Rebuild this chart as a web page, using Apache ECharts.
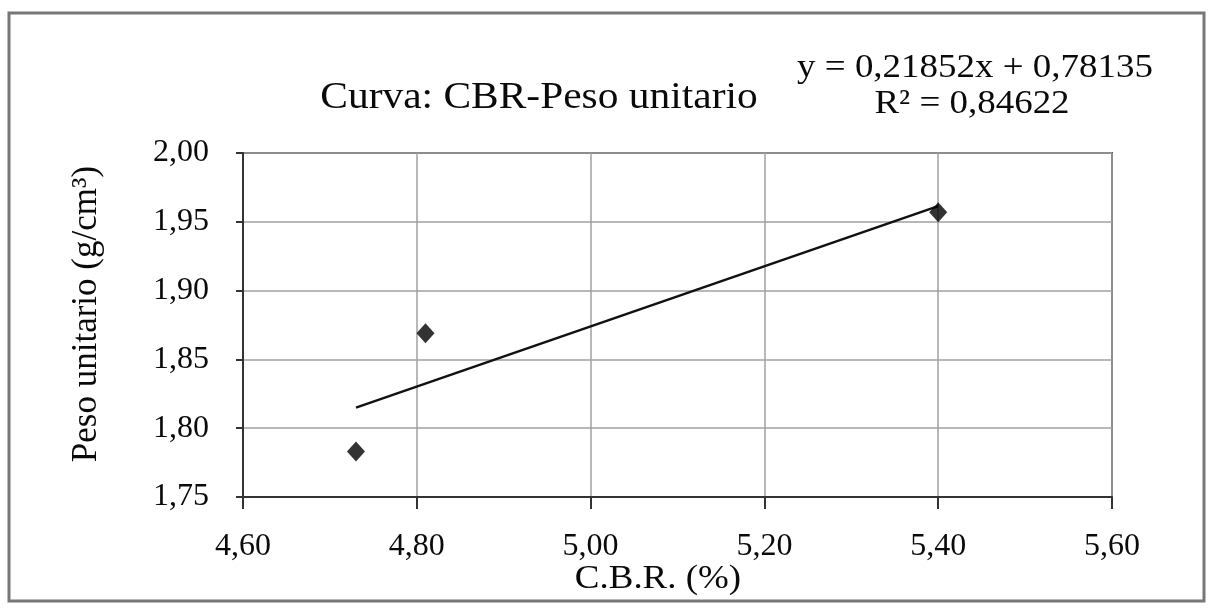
<!DOCTYPE html>
<html>
<head>
<meta charset="utf-8">
<script src="https://cdn.jsdelivr.net/npm/echarts@6/dist/echarts.min.js"></script>
<style>
  html, body { margin: 0; padding: 0; background: #fff; }
  #chart { width: 1214px; height: 608px; }
</style>
</head>
<body>
<div id="chart"></div>
<script>
// Ensayos CBR: valor CBR (%) y peso unitario seco (g/cm³)
const cbrValues = [4.73, 4.81, 5.40];
const pesoUnitario = [1.783, 1.869, 1.957];

// Línea de tendencia lineal y coeficiente de determinación
const slope = 0.21852;
const intercept = 0.78135;
const rSquared = 0.84622;

const xTicks = [4.60, 4.80, 5.00, 5.20, 5.40, 5.60];
const yTicks = [1.75, 1.80, 1.85, 1.90, 1.95, 2.00];

const chartTitle = 'Curva: CBR-Peso unitario';
const xName = 'C.B.R. (%)';
const yName = 'Peso unitario (g/cm³)';

const fmt = (v, d) => v.toFixed(d).replace('.', ',');

const points = cbrValues.map((x, i) => [x, pesoUnitario[i]]);
const xMin = Math.min(...cbrValues);
const xMax = Math.max(...cbrValues);
const trend = [xMin, xMax].map(x => [x, slope * x + intercept]);

const FONT = '"Liberation Serif", "DejaVu Serif", serif';
const INK = '#0a0a0a';
const WIDE = 1.12; // ensanchado horizontal de los textos

function label(text, x, y, size, opts) {
  return Object.assign({
    type: 'text',
    x: x, y: y,
    scaleX: WIDE,
    silent: true,
    style: {
      text: text,
      fontFamily: FONT, fontSize: size, fill: INK,
      align: 'center', verticalAlign: 'middle'
    }
  }, opts || {});
}

const chart = echarts.init(document.getElementById('chart'), null, { renderer: 'canvas' });
chart.setOption({
  backgroundColor: '#ffffff',
  animation: false,
  textStyle: { fontFamily: FONT, color: INK },
  graphic: [
    {
      type: 'rect',
      shape: { x: 9, y: 13, width: 1195, height: 588 },
      style: { fill: 'none', stroke: '#777', lineWidth: 3 },
      silent: true
    },
    label(chartTitle, 539, 98, 37),
    label('y = ' + fmt(slope, 5) + 'x + ' + fmt(intercept, 5), 975, 68, 33),
    label('R² = ' + fmt(rSquared, 5), 972, 104, 33),
    label(yName, 87, 314, 35, { rotation: Math.PI / 2, scaleX: 1 }),
    label(xName, 658, 579, 33)
  ],
  grid: {
    left: 243, right: 102, top: 153, bottom: 111,
    show: true, borderColor: '#555', borderWidth: 2, backgroundColor: 'transparent'
  },
  xAxis: {
    type: 'value',
    min: xTicks[0], max: xTicks[xTicks.length - 1], interval: 0.2,
    axisLine: { show: true, lineStyle: { color: '#333', width: 2 } },
    axisTick: { show: true, length: 12, inside: false, lineStyle: { color: '#333', width: 2 } },
    axisLabel: { margin: 34, fontFamily: FONT, fontSize: 32, color: INK, formatter: v => fmt(v, 2) },
    splitLine: { show: true, lineStyle: { color: '#a0a0a0', width: 1.5 } }
  },
  yAxis: {
    type: 'value',
    min: yTicks[0], max: yTicks[yTicks.length - 1], interval: 0.05,
    axisLine: { show: true, lineStyle: { color: '#333', width: 2 } },
    axisTick: { show: true, length: 7, lineStyle: { color: '#333', width: 2 } },
    axisLabel: { margin: 34, fontFamily: FONT, fontSize: 32, color: INK, formatter: v => fmt(v, 2) },
    splitLine: { show: true, lineStyle: { color: '#a0a0a0', width: 1.5 } }
  },
  series: [
    {
      name: 'Tendencia',
      type: 'line',
      data: trend,
      symbol: 'none',
      lineStyle: { color: '#111', width: 2.5 },
      z: 2
    },
    {
      name: 'Ensayos',
      type: 'scatter',
      data: points,
      symbol: 'diamond',
      symbolSize: [18, 20],
      itemStyle: { color: '#000' },
      z: 3
    }
  ]
});
</script>
</body>
</html>
